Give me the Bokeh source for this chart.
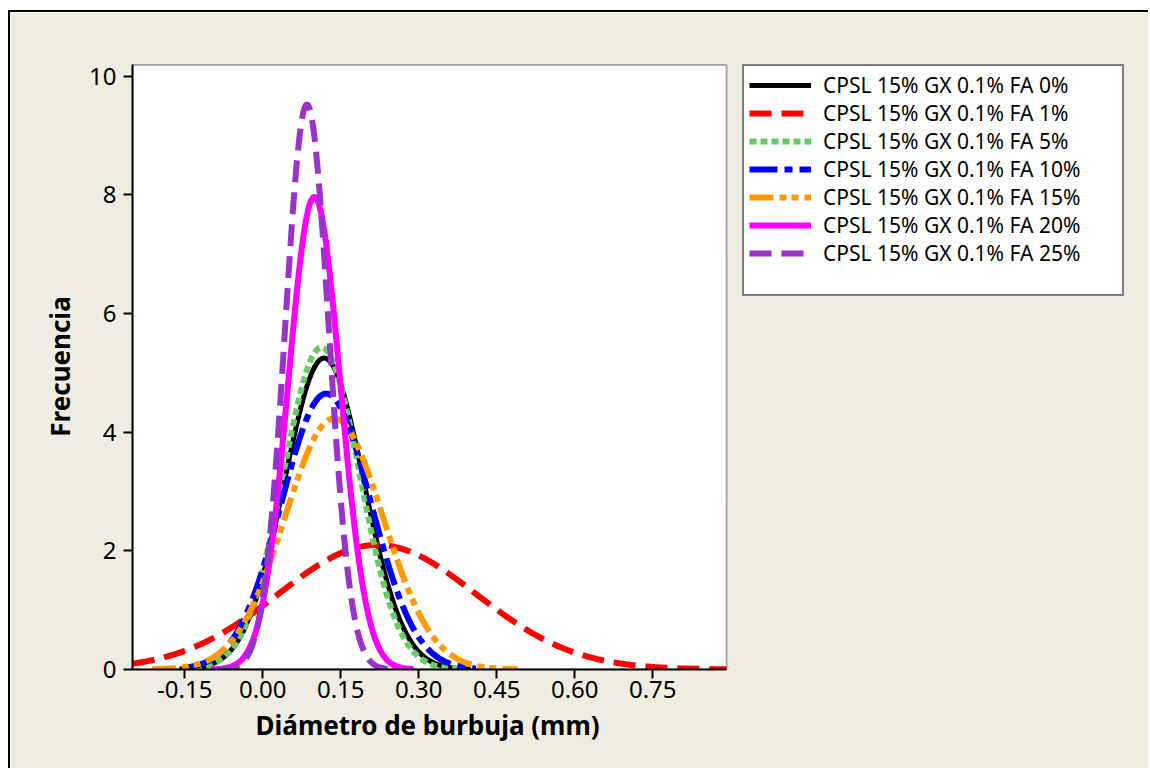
import numpy as np
from bokeh.plotting import figure
from bokeh.models import (Legend, LegendItem, FixedTicker, NumeralTickFormatter,
                          Range1d, BoxAnnotation, Title)
from bokeh.embed import file_html
from bokeh.resources import INLINE

# ---- data (fitted normal curves) ----
series_labels = [
    "CPSL 15% GX 0.1% FA 0%",
    "CPSL 15% GX 0.1% FA 1%",
    "CPSL 15% GX 0.1% FA 5%",
    "CPSL 15% GX 0.1% FA 10%",
    "CPSL 15% GX 0.1% FA 15%",
    "CPSL 15% GX 0.1% FA 20%",
    "CPSL 15% GX 0.1% FA 25%",
]
means = [0.118, 0.220, 0.113, 0.122, 0.137, 0.099, 0.085]
std_devs = [0.0760, 0.1900, 0.0735, 0.0858, 0.0943, 0.0501, 0.0419]
x_start = [-0.160, -0.250, -0.130, -0.145, -0.213, -0.100, -0.087]
x_end = [0.400, 0.892, 0.375, 0.410, 0.490, 0.290, 0.240]

x_ticks = [-0.15, 0.00, 0.15, 0.30, 0.45, 0.60, 0.75]
y_ticks = [0, 2, 4, 6, 8, 10]
x_axis_min, x_axis_max = -0.2505, 0.892
y_axis_min, y_axis_max = 0.0, 10.19

# ---- styles ----
colors = ["#000000", "#FF0000", "#66CC66", "#0000FF", "#FF9900", "#FF00FF", "#9933CC"]
dashes = ["solid", "22 10", "7 4", "28 7 8 7", "24 6 7 5 7 6", "solid", "22 10"]
widths = [5, 6, 6, 6, 6, 6, 6]
FONT = "Noto Sans"
BG = "#F0ECE2"

# frame spans plot area + legend area; the white plot area is a box in data space
p = figure(width=1140, height=758, output_backend="svg", toolbar_location=None,
           x_range=Range1d(x_axis_min, 1.6687), y_range=Range1d(y_axis_min, 10.214),
           min_border_left=122, min_border_right=20,
           min_border_top=51, min_border_bottom=101)
p.background_fill_color = BG
p.border_fill_color = BG
p.outline_line_color = None
p.grid.visible = False
p.styles = {"margin-left": "8px", "margin-top": "10px",
            "border-left": "2px solid black", "border-top": "2px solid black"}

plot_area = BoxAnnotation(left=x_axis_min, right=x_axis_max,
                          bottom=y_axis_min, top=y_axis_max,
                          fill_color="white", fill_alpha=1.0,
                          line_color="black", line_width=2, level="underlay")
p.add_layout(plot_area)

items = []
for i in range(len(series_labels)):
    xs = np.linspace(x_start[i], x_end[i], 400)
    s = std_devs[i]
    ys = np.exp(-0.5 * ((xs - means[i]) / s) ** 2) / (s * np.sqrt(2 * np.pi))
    r = p.line(xs, ys, line_color=colors[i], line_width=widths[i],
               line_dash=dashes[i], line_cap="butt", line_join="round")
    items.append(LegendItem(label=series_labels[i], renderers=[r]))

spacer = p.line([0.0], [0.0], line_alpha=0)
items.append(LegendItem(label=" ", renderers=[spacer]))

legend = Legend(items=items, location=(610, 373))
legend.label_text_font = FONT
legend.label_text_font_size = "21px"
legend.label_text_color = "black"
legend.label_height = 22
legend.glyph_height = 22
legend.glyph_width = 62
legend.label_standoff = 12
legend.label_width = 294
legend.padding = 5
legend.spacing = 0
legend.margin = 0
legend.border_line_color = "black"
legend.border_line_width = 2
legend.background_fill_color = "white"
legend.background_fill_alpha = 1.0
p.add_layout(legend)

# axes
p.xaxis.ticker = FixedTicker(ticks=x_ticks)
p.xaxis.formatter = NumeralTickFormatter(format="0.00")
p.yaxis.ticker = FixedTicker(ticks=y_ticks)
p.xaxis.bounds = (x_axis_min, x_axis_max)
p.yaxis.bounds = (y_axis_min, y_axis_max)
for ax in (p.xaxis[0], p.yaxis[0]):
    ax.axis_line_color = "black"
    ax.axis_line_width = 2
    ax.major_tick_line_color = "black"
    ax.major_tick_line_width = 2
    ax.major_tick_out = 9
    ax.major_tick_in = 0
    ax.minor_tick_line_color = None
    ax.major_label_text_font = FONT
    ax.major_label_text_font_size = "24px"
    ax.major_label_text_color = "black"
    ax.axis_label_text_font = FONT
    ax.axis_label_text_font_style = "bold"
    ax.axis_label_text_font_size = "26px"
    ax.axis_label_text_color = "black"

p.yaxis.axis_label = "Frecuencia"
p.xaxis.major_label_standoff = 2
p.yaxis.major_label_standoff = 7
p.yaxis.axis_label_standoff = 8

# x-axis title centred under the plot area (not under the whole frame)
x_title = Title(text="Diámetro de burbuja (mm)", align="left", offset=123,
                standoff=8, text_font=FONT, text_font_style="bold",
                text_font_size="26px", text_color="black")
p.add_layout(x_title, "below")

open("out.html", "w").write(file_html(p, INLINE))
